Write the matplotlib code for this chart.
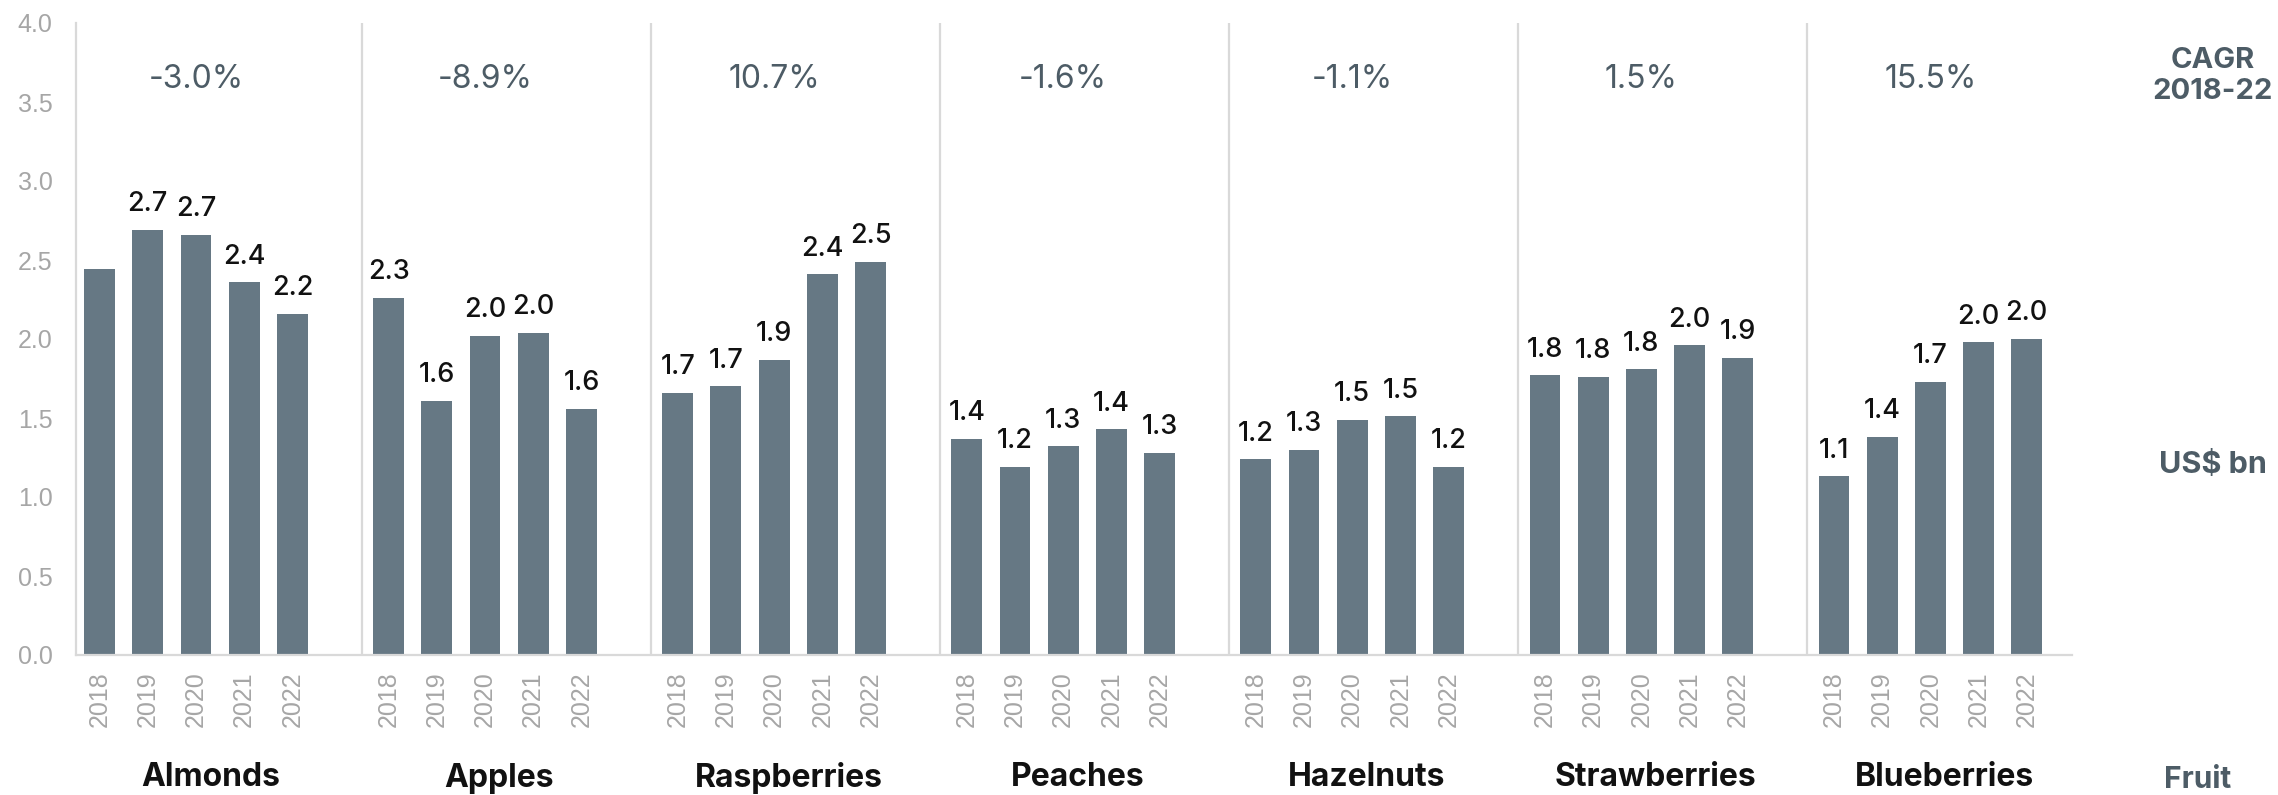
import numpy as np
import matplotlib
matplotlib.use("Agg")
import matplotlib.pyplot as plt
import matplotlib.transforms as mtransforms

# data (US$ bn)
fruits = ["Almonds", "Apples", "Raspberries", "Peaches", "Hazelnuts", "Strawberries", "Blueberries"]
years = ["2018", "2019", "2020", "2021", "2022"]
almonds = [2.44, 2.69, 2.66, 2.36, 2.16]
apples = [2.26, 1.61, 2.02, 2.04, 1.56]
raspberries = [1.66, 1.70, 1.87, 2.41, 2.49]
peaches = [1.37, 1.19, 1.32, 1.43, 1.28]
hazelnuts = [1.24, 1.30, 1.49, 1.51, 1.19]
strawberries = [1.77, 1.76, 1.81, 1.96, 1.88]
blueberries = [1.13, 1.38, 1.73, 1.98, 2.00]
cagr = ["-3.0%", "-8.9%", "10.7%", "-1.6%", "-1.1%", "1.5%", "15.5%"]
# (fruit, year) pairs that carry no value label in the original
no_label = [(0, 0)]

series = [almonds, apples, raspberries, peaches, hazelnuts, strawberries, blueberries]

BAR = "#667884"
SLATE = "#4d5c66"
GRID = "#d9d9d9"
TICK = "#a6a6a6"
NUMFONT = ["Inter", "Lato", "DejaVu Sans"]
TICKFONT = ["Liberation Sans", "DejaVu Sans"]

W, H = 2278, 795
fig = plt.figure(figsize=(W / 100, H / 100), dpi=100)
ax = fig.add_axes([76 / W, 140 / H, 1996 / W, 632 / H])

slot = 6
xs, xlabels = [], []
for g, vals in enumerate(series):
    x = np.arange(len(vals)) + g * slot
    ax.bar(x, vals, width=0.64, color=BAR, zorder=2)
    for i, (xi, v) in enumerate(zip(x, vals)):
        if (g, i) in no_label:
            continue
        ax.annotate("{:.1f}".format(v), (xi, v), xytext=(0, 9), textcoords="offset points",
                    ha="center", va="bottom", fontsize=19.5, fontweight="medium",
                    family=NUMFONT, color="#111111")
    xs.extend(x)
    xlabels.extend(years)

# group separators
for g in range(1, len(fruits)):
    ax.axvline(g * slot - 0.56, color=GRID, lw=1.6, zorder=1)

ax.set_xlim(-0.49, 40.94)
ax.set_ylim(0, 4)
ax.set_yticks(np.arange(0, 4.01, 0.5))
ax.set_yticklabels(["{:.1f}".format(t) for t in np.arange(0, 4.01, 0.5)])
ax.set_xticks(xs)
ax.set_xticklabels(xlabels, rotation=90)
ax.tick_params(axis="both", length=0, labelsize=18, labelcolor=TICK)
ax.tick_params(axis="y", pad=17)
ax.tick_params(axis="x", pad=12)
for lab in ax.get_xticklabels() + ax.get_yticklabels():
    lab.set_family(TICKFONT)

for s in ["top", "right"]:
    ax.spines[s].set_visible(False)
for s in ["left", "bottom"]:
    ax.spines[s].set_color(GRID)
    ax.spines[s].set_linewidth(1.6)

# CAGR values and fruit names
trans = mtransforms.blended_transform_factory(ax.transData, fig.transFigure)
for g, name in enumerate(fruits):
    ax.text(g * slot + 2, 3.64, cagr[g], ha="center", va="center", fontsize=23,
            family=NUMFONT, color=SLATE)
    ax.text(g * slot + 2.3, 1 - 778 / H, name, transform=trans, ha="center", va="center",
            fontsize=23, fontweight="bold", family=NUMFONT, color="#111111")

fig.text(2213 / W, 1 - 76 / H, "CAGR\n2018-22", ha="center", va="center", fontsize=21,
         fontweight="bold", family=NUMFONT, color=SLATE, linespacing=1.15)
fig.text(2213 / W, 1 - 465 / H, "US$ bn", ha="center", va="center", fontsize=22,
         fontweight="bold", family=NUMFONT, color=SLATE)
fig.text(2198 / W, 1 - 780 / H, "Fruit", ha="center", va="center", fontsize=21.5,
         fontweight="bold", family=NUMFONT, color=SLATE)

fig.savefig("out.png", dpi=100, facecolor="white")
